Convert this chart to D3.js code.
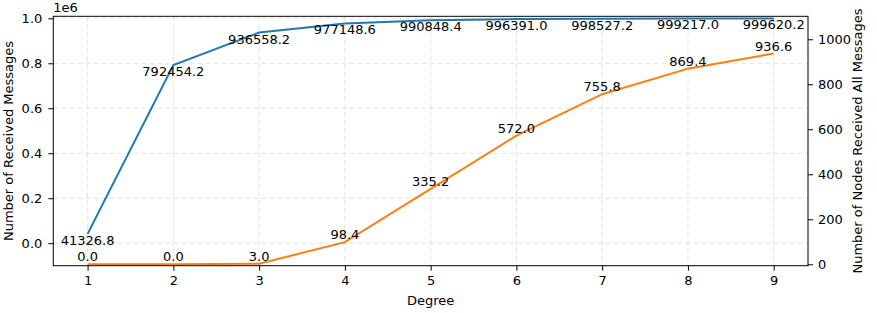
<!DOCTYPE html>
<html>
<head>
<meta charset="UTF-8">
<title>Degree chart</title>
<script src="https://d3js.org/d3.v7.min.js"></script>
<style>
    body { margin: 0; background: #fff; }
    svg text { font-family: "DejaVu Sans", sans-serif; font-size: 13px; fill: #000; }
    .grid line { stroke: #dcdcdc; stroke-width: 0.8; stroke-dasharray: 5,3; }
    .axis path { display: none; }
    .axis line { stroke: #000; stroke-width: 1; }
</style>
</head>
<body>
<script>
    var degrees = [1, 2, 3, 4, 5, 6, 7, 8, 9];
    var receivedMessages = [41326.8, 792454.2, 936558.2, 977148.6, 990848.4, 996391.0, 998527.2, 999217.0, 999620.2];
    var nodesReceivedAll = [0.0, 0.0, 3.0, 98.4, 335.2, 572.0, 755.8, 869.4, 936.6];
    var leftTicks = [0, 0.2e6, 0.4e6, 0.6e6, 0.8e6, 1.0e6];
    var rightTicks = [0, 200, 400, 600, 800, 1000];

    var W = 877, H = 313;
    var L = 53.3, R = 808, T = 16.3, B = 265.7;

    var svg = d3.select("body").append("svg").attr("width", W).attr("height", H);

    var x = d3.scaleLinear().domain([0.6, 9.4]).range([L, R]);
    var yL = d3.scaleLinear().domain([-0.1e6, 1.0089e6]).range([B, T]);
    var yR = d3.scaleLinear().domain([-6.2, 1102]).range([B, T]);

    // grid
    var grid = svg.append("g").attr("class", "grid");
    grid.selectAll("line.v").data(degrees).enter().append("line")
        .attr("x1", function(d){ return x(d); }).attr("x2", function(d){ return x(d); })
        .attr("y1", T).attr("y2", B);
    grid.selectAll("line.h").data(leftTicks).enter().append("line")
        .attr("y1", function(d){ return yL(d); }).attr("y2", function(d){ return yL(d); })
        .attr("x1", L).attr("x2", R);

    // lines
    var lineL = d3.line().x(function(d, i){ return x(degrees[i]); }).y(function(d){ return yL(d); });
    var lineR = d3.line().x(function(d, i){ return x(degrees[i]); }).y(function(d){ return yR(d); });

    svg.append("path").datum(receivedMessages).attr("d", lineL)
        .attr("fill", "none").attr("stroke", "#1f77b4").attr("stroke-width", 2);
    svg.append("path").datum(nodesReceivedAll).attr("d", lineR)
        .attr("fill", "none").attr("stroke", "#ff7f0e").attr("stroke-width", 2);

    // value labels
    svg.selectAll("text.lblL").data(receivedMessages).enter().append("text")
        .attr("text-anchor", "middle")
        .attr("x", function(d, i){ return x(degrees[i]); })
        .attr("y", function(d){ return yL(d) + 11; })
        .text(function(d){ return d.toFixed(1); });
    svg.selectAll("text.lblR").data(nodesReceivedAll).enter().append("text")
        .attr("text-anchor", "middle")
        .attr("x", function(d, i){ return x(degrees[i]); })
        .attr("y", function(d){ return yR(d) - 3; })
        .text(function(d){ return d.toFixed(1); });

    // axes
    svg.append("g").attr("class", "axis").attr("transform", "translate(0," + B + ")")
        .call(d3.axisBottom(x).tickValues(degrees).tickSize(5).tickPadding(5).tickFormat(d3.format("d")))
        .selectAll("text").attr("font-size", null);
    svg.append("g").attr("class", "axis").attr("transform", "translate(" + L + ",0)")
        .call(d3.axisLeft(yL).tickValues(leftTicks).tickSize(5).tickPadding(6)
            .tickFormat(function(d){ return (d / 1e6).toFixed(1); }));
    svg.append("g").attr("class", "axis").attr("transform", "translate(" + R + ",0)")
        .call(d3.axisRight(yR).tickValues(rightTicks).tickSize(5).tickPadding(5).tickFormat(d3.format("d")));
    svg.selectAll(".axis text").attr("font-size", null).attr("font-family", null);
    svg.selectAll(".axis").attr("font-size", null).attr("font-family", null);

    // frame
    svg.append("rect").attr("x", L).attr("y", T).attr("width", R - L).attr("height", B - T)
        .attr("fill", "none").attr("stroke", "#000").attr("stroke-width", 1);

    // labels
    svg.append("text").attr("x", L).attr("y", 11.5).text("1e6");
    svg.append("text").attr("x", (L + R) / 2).attr("y", 305).attr("text-anchor", "middle").text("Degree");
    svg.append("text").attr("transform", "translate(12.5," + ((T + B) / 2) + ") rotate(-90)")
        .attr("text-anchor", "middle").text("Number of Received Messages");
    svg.append("text").attr("transform", "translate(862," + ((T + B) / 2) + ") rotate(-90)")
        .attr("text-anchor", "middle").text("Number of Nodes Received All Messages");
</script>
</body>
</html>
